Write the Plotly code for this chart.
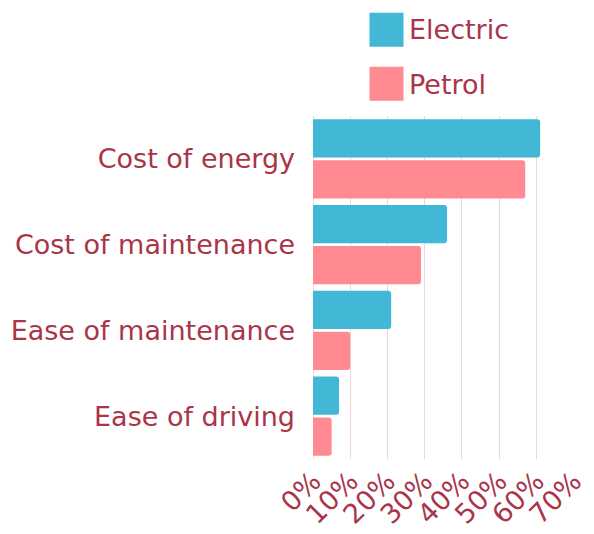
import plotly.graph_objects as go

categories = ["Cost of energy", "Cost of maintenance", "Ease of maintenance", "Ease of driving"]
series_names = ["Electric", "Petrol"]
electric = [61, 36, 21, 7]
petrol = [57, 29, 10, 5]
x_ticks = [0, 10, 20, 30, 40, 50, 60, 70]
x_tick_labels = [f"{v}%" for v in x_ticks]

colors = ["#42B8D6", "#FF8A92"]
text_color = "#A93548"
font_family = "DejaVu Sans"
fsize = 27

OFF = 8  # page body margin
W, H = 594 - OFF, 534 - OFF
L, R, T, B = 313 - OFF, 574 - OFF, 116 - OFF, 459 - OFF

fig = go.Figure()
for name, vals, col in zip(series_names, [electric, petrol], colors):
    fig.add_trace(go.Bar(
        y=categories, x=vals, name=name, orientation="h",
        marker=dict(color=col, line=dict(width=0)),
        showlegend=False,
    ))

def px_x(p):
    return (p - OFF - L) / (R - L)
def px_y(p):
    return (B - (p - OFF)) / (B - T)

swatches = [(12.7, 46.7, 29.7), (66.7, 100.7, 84.5)]
shapes = []
annotations = []
for (top, bot, mid), name, col in zip(swatches, series_names, colors):
    shapes.append(dict(type="rect", xref="paper", yref="paper",
                       x0=px_x(369.5), x1=px_x(403.5), y0=px_y(bot), y1=px_y(top),
                       fillcolor=col, line=dict(width=0)))
    annotations.append(dict(xref="paper", yref="paper", x=px_x(407), y=px_y(mid),
                            text=name, showarrow=False, xanchor="left", yanchor="middle",
                            font=dict(size=fsize, color=text_color, family=font_family)))

fig.update_layout(
    width=W, height=H,
    margin=dict(l=L, r=W - R, t=T, b=H - B, autoexpand=False),
    paper_bgcolor="white", plot_bgcolor="white",
    barmode="group", bargap=0.045, bargroupgap=0.066,
    barcornerradius=3,
    shapes=shapes, annotations=annotations,
    font=dict(family=font_family, color=text_color),
)
fig.update_xaxes(
    range=[0, 70.1], tickmode="array", tickvals=x_ticks, ticktext=x_tick_labels, tickangle=-45,
    showgrid=True, gridcolor="#F0D6DC", gridwidth=1,
    zeroline=True, zerolinecolor="#F0D6DC", zerolinewidth=1,
    showline=False, ticks="",
    tickfont=dict(size=fsize, color=text_color, family=font_family),
)
fig.update_yaxes(
    autorange="reversed", showgrid=False, showline=False, ticks="",
    ticklabelstandoff=17,
    tickfont=dict(size=fsize, color=text_color, family=font_family),
)

fig.write_html("out.html")
